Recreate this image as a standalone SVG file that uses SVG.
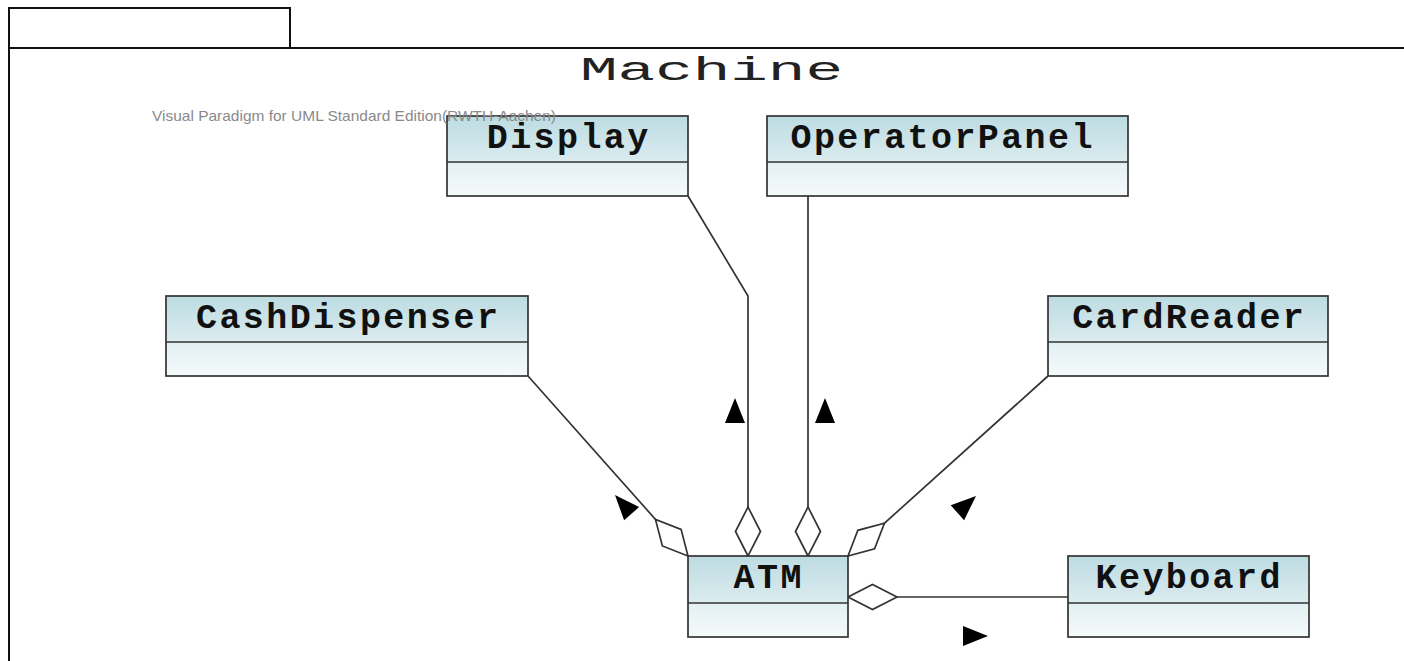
<svg xmlns="http://www.w3.org/2000/svg" width="1404" height="661" viewBox="0 0 1404 661">
  <style>
    .frame { fill: none; stroke: #111; stroke-width: 2; }
    .box { fill: url(#classFill); stroke: #333; stroke-width: 1.7; }
    .divider { stroke: #333; stroke-width: 1.7; }
    .name { font-family: "Liberation Mono", "Courier New", monospace; font-weight: bold; font-size: 35px; letter-spacing: 2.4px; fill: #111; text-anchor: middle; }
    .title { font-family: "Liberation Mono", "Courier New", monospace; font-size: 33px; fill: #222; }
    .wm { font-family: "Liberation Sans", Arial, sans-serif; font-size: 14.5px; fill: #8a8a8a; }
    .link { fill: none; stroke: #333; stroke-width: 1.7; }
    .agg { fill: #fff; stroke: #333; stroke-width: 1.7; stroke-linejoin: miter; }
    .dir { fill: #000; }
  </style>
  <defs>
    <linearGradient id="classFill" x1="0" y1="0" x2="0" y2="1">
      <stop offset="0" stop-color="#bcdce2"/>
      <stop offset="0.58" stop-color="#dcecef"/>
      <stop offset="0.6" stop-color="#e3f0f3"/>
      <stop offset="1" stop-color="#f6fafb"/>
    </linearGradient>
    <!-- hollow aggregation diamond, tip at origin, pointing along +x -->
    <path id="diamond" d="M0,0 L24.5,-12.5 L49,0 L24.5,12.5 Z"/>
    <!-- reading-direction triangle, apex at origin, pointing up -->
    <path id="arrow" d="M0,0 L10,25 L-10,25 Z"/>
  </defs>

  <!-- package frame -->
  <g id="package-Machine">
    <path class="frame" d="M9,48 L9,8 L290,8 L290,48"/>
    <path class="frame" d="M1404,48 L9,48 L9,661"/>
    <text class="title" x="580" y="80" textLength="263" lengthAdjust="spacingAndGlyphs">Machine</text>
  </g>

  <!-- associations -->
  <g id="connectors">
    <polyline class="link" points="688,196 748,296 748,556"/>
    <line class="link" x1="808" y1="196" x2="808" y2="556"/>
    <line class="link" x1="528" y1="376" x2="688" y2="556"/>
    <line class="link" x1="1048" y1="376" x2="848" y2="556"/>
    <line class="link" x1="848" y1="597" x2="1068" y2="597"/>

    <use href="#diamond" class="agg" transform="translate(748,556) rotate(-90)"/>
    <use href="#diamond" class="agg" transform="translate(808,556) rotate(-90)"/>
    <use href="#diamond" class="agg" transform="translate(688,556) rotate(-131.6)"/>
    <use href="#diamond" class="agg" transform="translate(848,556) rotate(-42)"/>
    <use href="#diamond" class="agg" transform="translate(848,597)"/>

    <use href="#arrow" class="dir" transform="translate(735,398)"/>
    <use href="#arrow" class="dir" transform="translate(825,398)"/>
    <use href="#arrow" class="dir" transform="translate(615,495) rotate(-41.6)"/>
    <use href="#arrow" class="dir" transform="translate(976,496) rotate(48)"/>
    <use href="#arrow" class="dir" transform="translate(988,636) rotate(90)"/>
  </g>

  <!-- classes -->
  <g id="Display">
    <rect class="box" x="447" y="116" width="241" height="80"/>
    <line class="divider" x1="447" y1="162" x2="688" y2="162"/>
    <text class="name" x="568.7" y="148">Display</text>
  </g>
  <g id="OperatorPanel">
    <rect class="box" x="767" y="116" width="361" height="80"/>
    <line class="divider" x1="767" y1="162" x2="1128" y2="162"/>
    <text class="name" x="942.7" y="148">OperatorPanel</text>
  </g>
  <g id="CashDispenser">
    <rect class="box" x="166" y="296" width="362" height="80"/>
    <line class="divider" x1="166" y1="342" x2="528" y2="342"/>
    <text class="name" x="348.2" y="328">CashDispenser</text>
  </g>
  <g id="CardReader">
    <rect class="box" x="1048" y="296" width="280" height="80"/>
    <line class="divider" x1="1048" y1="342" x2="1328" y2="342"/>
    <text class="name" x="1189.2" y="328">CardReader</text>
  </g>
  <g id="ATM">
    <rect class="box" x="688" y="556" width="160" height="81"/>
    <line class="divider" x1="688" y1="603" x2="848" y2="603"/>
    <text class="name" x="768.7" y="588">ATM</text>
  </g>
  <g id="Keyboard">
    <rect class="box" x="1068" y="556" width="241" height="81"/>
    <line class="divider" x1="1068" y1="603" x2="1309" y2="603"/>
    <text class="name" x="1189.2" y="588">Keyboard</text>
  </g>

  <!-- tool watermark -->
  <text class="wm" x="152" y="120.5" textLength="404" lengthAdjust="spacingAndGlyphs">Visual Paradigm for UML Standard Edition(RWTH-Aachen)</text>
</svg>
